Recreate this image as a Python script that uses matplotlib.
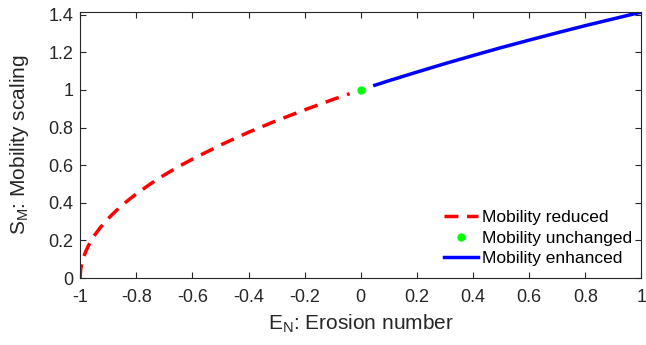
import matplotlib
matplotlib.use("Agg")
import matplotlib.pyplot as plt

plt.rcParams['font.family'] = ['Liberation Sans', 'DejaVu Sans']
plt.rcParams['mathtext.default'] = 'regular'

# Values
en_reduced = [-1.0, -0.998, -0.995, -0.99, -0.98, -0.97, -0.96, -0.95, -0.93, -0.9,
              -0.88, -0.86, -0.84, -0.82, -0.8, -0.75, -0.7, -0.65, -0.6, -0.5,
              -0.4, -0.3, -0.2, -0.1, -0.04]
sm_reduced = [0.0, 0.045, 0.071, 0.10, 0.141, 0.173, 0.20, 0.224, 0.265, 0.316,
              0.346, 0.374, 0.40, 0.424, 0.447, 0.50, 0.548, 0.592, 0.632, 0.707,
              0.775, 0.837, 0.894, 0.949, 0.98]
en_unchanged = [0.0]
sm_unchanged = [1.0]
en_enhanced = [0.05, 0.1, 0.2, 0.3, 0.4, 0.5, 0.6, 0.7, 0.8, 0.9, 1.0]
sm_enhanced = [1.025, 1.049, 1.095, 1.140, 1.183, 1.225, 1.265, 1.304, 1.342, 1.378, 1.414]

gray = '#262626'

fig = plt.figure(figsize=(6.46, 3.45), dpi=100)
ax = fig.add_axes([0.124, 0.194, 0.869, 0.771])

ax.plot(en_reduced, sm_reduced, color='red', lw=2.5, dashes=(4, 2.5), label='Mobility reduced')
ax.plot(en_unchanged, sm_unchanged, 'o', color='#00ff00', ms=5, label='Mobility unchanged')
ax.plot(en_enhanced, sm_enhanced, color='blue', lw=2.5, label='Mobility enhanced')

ax.set_xlim(-1, 1)
ax.set_ylim(0, 1.414)
ax.set_xticks([-1, -0.8, -0.6, -0.4, -0.2, 0, 0.2, 0.4, 0.6, 0.8, 1])
ax.set_xticklabels(['-1', '-0.8', '-0.6', '-0.4', '-0.2', '0', '0.2', '0.4', '0.6', '0.8', '1'])
ax.set_yticks([0, 0.2, 0.4, 0.6, 0.8, 1, 1.2, 1.4])
ax.set_yticklabels(['0', '0.2', '0.4', '0.6', '0.8', '1', '1.2', '1.4'])
ax.tick_params(direction='in', top=True, right=True, labelsize=13, colors=gray, length=4)
ax.tick_params(axis='x', pad=8)
ax.tick_params(axis='y', pad=5)
for s in ax.spines.values():
    s.set_color(gray)
    s.set_linewidth(0.8)

ax.set_xlabel('E$_N$: Erosion number', fontsize=15, color=gray, labelpad=5)
ax.set_ylabel('S$_M$: Mobility scaling', fontsize=15, color=gray, labelpad=12)

ax.legend(loc='lower right', bbox_to_anchor=(0.993, 0.025), frameon=False, fontsize=12.5,
          handlelength=1.95, handletextpad=0.25, labelspacing=0.3, borderaxespad=0,
          borderpad=0.3)

fig.savefig('out.png', dpi=100)
